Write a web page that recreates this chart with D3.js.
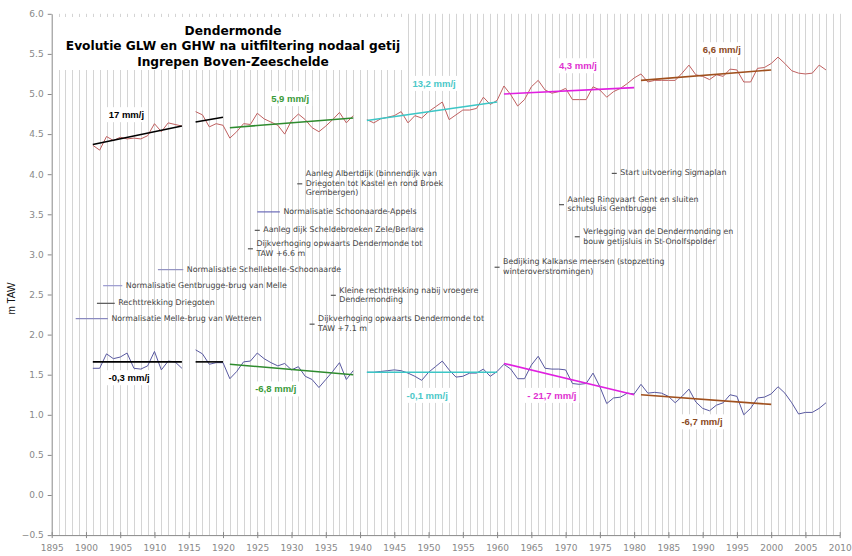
<!DOCTYPE html>
<html><head><meta charset="utf-8">
<script src="https://cdn.jsdelivr.net/npm/d3@7"></script>
<style>body{margin:0;background:#fff}svg{display:block}</style>
</head><body>
<script>
// ---------- DATA ----------
const titleLines = ["Dendermonde","Evolutie GLW en GHW na uitfiltering nodaal getij","Ingrepen Boven-Zeeschelde"];
const yAxisTitle = "m TAW";
const xTicks = d3.range(1895, 2011, 5);
const yTicks = [-0.5,0,0.5,1,1.5,2,2.5,3,3.5,4,4.5,5,5.5,6];
const years = d3.range(1901, 2009);
const ghw = [4.36,4.30,4.47,4.42,4.46,4.44,4.45,4.44,4.48,4.63,4.53,4.64,4.62,4.60,null,
 4.78,4.74,4.59,4.63,4.61,4.45,4.53,4.63,4.62,4.76,4.69,4.65,4.61,4.50,4.67,4.75,4.68,4.58,4.53,4.60,4.68,4.77,4.64,4.73,null,
 4.68,4.64,4.69,4.71,4.73,4.78,4.64,4.73,4.70,4.78,4.84,4.90,4.68,4.74,4.80,4.80,4.82,4.96,4.87,4.92,
 5.10,4.99,4.85,4.93,5.09,5.17,5.05,5.01,5.03,5.07,4.93,4.93,4.93,5.09,5.05,4.96,5.03,5.07,5.13,5.20,
 5.25,5.15,5.17,5.17,5.17,5.17,5.26,5.36,5.24,5.22,5.18,5.24,5.22,5.31,5.30,5.15,5.15,5.32,5.33,5.38,
 5.46,5.38,5.29,5.26,5.25,5.26,5.36,5.30];
const glw = [1.58,1.58,1.76,1.70,1.72,1.77,1.58,1.57,1.61,1.79,1.56,1.67,1.66,1.58,null,
 1.81,1.76,1.63,1.65,1.65,1.45,1.54,1.66,1.67,1.77,1.70,1.65,1.61,1.64,1.56,1.60,1.48,1.44,1.34,1.44,1.54,1.65,1.44,1.55,null,
 1.53,1.53,1.54,1.55,1.56,1.55,1.52,1.48,1.43,1.53,1.60,1.67,1.56,1.47,1.48,1.52,1.52,1.57,1.48,1.54,
 1.63,1.57,1.45,1.45,1.62,1.73,1.58,1.57,1.57,1.56,1.39,1.38,1.39,1.52,1.35,1.14,1.21,1.22,1.27,1.26,
 1.38,1.27,1.28,1.27,1.23,1.15,1.23,1.32,1.16,1.08,1.05,1.12,1.15,1.25,1.23,1.00,1.08,1.21,1.22,1.26,
 1.35,1.27,1.15,1.01,1.03,1.03,1.08,1.15];
// trend lines: start year, end year, start value, end value
const trendStart = [1901,1916,1921,1941,1961,1981, 1901,1916,1921,1941,1961,1981];
const trendEnd   = [1914,1920,1939,1960,1980,2000, 1914,1920,1939,1960,1980,2000];
const trendV0    = [4.37,4.65,4.58,4.67,5.00,5.17, 1.66,1.66,1.63,1.53,1.64,1.25];
const trendV1    = [4.60,4.71,4.70,4.90,5.08,5.30, 1.66,1.66,1.50,1.53,1.25,1.13];
const trendColors= ["#000","#000","#2e8b2e","#3cc6c6","#e020e0","#a0501e","#000","#000","#2e8b2e","#3cc6c6","#e020e0","#a0501e"];
// rate labels: text, anchor year, anchor value
const rateText = ["17 mm/j","5,9 mm/j","13,2 mm/j","4,3 mm/j","6,6 mm/j","-0,3 mm/j","-6,8 mm/j","-0,1 mm/j","- 21,7 mm/j","-6,7 mm/j"];
const rateYear = [1905.9,1929.8,1950.8,1971.8,1992.8,1906.3,1927.7,1949.8,1968.0,1989.9];
const rateVal  = [4.73,4.93,5.12,5.34,5.54,1.45,1.31,1.23,1.23,0.90];
const rateColors = ["#000","#3a9a3a","#4cc8c8","#e030d0","#8b4a1e","#000","#3a9a3a","#4cc8c8","#e030d0","#8b4a1e"];
// events (interventions): text lines, start year, end year, level
const eventText = [
 ["Aanleg Albertdijk (binnendijk van","Driegoten tot Kastel en rond Broek","Grembergen)"],
 ["Normalisatie Schoonaarde-Appels"],
 ["Aanleg dijk Scheldebroeken Zele/Berlare"],
 ["Dijkverhoging opwaarts Dendermonde tot","TAW +6.6 m"],
 ["Normalisatie Schellebelle-Schoonaarde"],
 ["Normalisatie Gentbrugge-brug van Melle"],
 ["Rechttrekking Driegoten"],
 ["Normalisatie Melle-brug van Wetteren"],
 ["Kleine rechttrekking nabij vroegere","Dendermonding"],
 ["Dijkverhoging opwaarts Dendermonde tot","TAW +7.1 m"],
 ["Bedijking Kalkanse meersen (stopzetting","winteroverstromingen)"],
 ["Aanleg Ringvaart Gent en sluiten","schutsluis Gentbrugge"],
 ["Verlegging van de Dendermonding en","bouw getijsluis in St-Onolfspolder"],
 ["Start uitvoering Sigmaplan"]
];
const eventStart = [1931.2,1925.0,1925.0,1924.0,1910.5,1902.5,1901.6,1898.5,1936.1,1933.0,1960.0,1969.4,1971.7,1977.1];
const eventEnd   = [1931.2,1928.3,1925.0,1924.0,1914.2,1905.3,1904.2,1903.2,1936.1,1933.0,1960.0,1969.4,1971.7,1977.1];
const eventLevel = [3.88,3.53,3.30,3.07,2.81,2.61,2.39,2.20,2.49,2.13,2.84,3.62,3.22,4.01];
const eventColors= ["#555","#6a6ab8","#555","#555","#9090c0","#9a9ad0","#555","#8a8ac0","#555","#555","#555","#555","#555","#555"];

// ---------- CHART ----------
const W = 852, H = 556;
const svg = d3.select("body").append("svg").attr("width", W).attr("height", H);
const x = d3.scaleLinear().domain([1895, 2010]).range([51.7, 839.7]);
const y = d3.scaleLinear().domain([-0.5, 6]).range([535.1, 13.8]);

// vertical year grid lines
svg.append("g").selectAll("line").data(d3.range(1896, 2011)).join("line")
  .attr("x1", d => Math.round(x(d)) + 0.5).attr("x2", d => Math.round(x(d)) + 0.5)
  .attr("y1", y(6)).attr("y2", y(-0.5))
  .attr("stroke", "#d4d4d4").attr("stroke-width", 1);

// title box
svg.append("rect").attr("x", 58).attr("y", 17).attr("width", 349).attr("height", 53).attr("fill", "#fff");
svg.append("g").selectAll("text").data(titleLines).join("text")
  .attr("x", 233).attr("y", (d, i) => 34.5 + i * 15.5)
  .attr("text-anchor", "middle").attr("font-family", "DejaVu Sans, Verdana, sans-serif")
  .attr("font-weight", "bold").attr("font-size", 12.2).attr("fill", "#000").text(d => d);

// axes
const gx = svg.append("g").attr("transform", `translate(0,${y(-0.5)})`)
  .call(d3.axisBottom(x).tickValues(xTicks).tickFormat(d3.format("d")).tickSizeInner(3).tickSizeOuter(0));
const gy = svg.append("g").attr("transform", `translate(${x(1895)},0)`)
  .call(d3.axisLeft(y).tickValues(yTicks).tickFormat(d3.format(".1f")).tickSizeInner(4).tickSizeOuter(0));
[gx, gy].forEach(g => {
  g.select(".domain").attr("stroke", "#888");
  g.selectAll(".tick line").attr("stroke", "#888");
  g.selectAll("text").attr("fill", "#888").attr("font-family", "DejaVu Sans, Verdana, sans-serif").attr("font-size", 9);
});
gx.selectAll(".tick line").attr("y1", -3).attr("y2", 3);
gx.selectAll("text").attr("dy", "1.1em");
gy.selectAll("text").attr("x", -8);

svg.append("text").attr("transform", `translate(15,${y(2.45)}) rotate(-90)`)
  .attr("text-anchor", "middle").attr("font-family", "Liberation Sans, Arial, sans-serif")
  .attr("font-size", 10).attr("fill", "#111").text(yAxisTitle);

// events
const ev = svg.append("g").attr("font-family", "DejaVu Sans, Verdana, sans-serif").attr("font-size", 7.9).attr("fill", "#444");
eventText.forEach((lines, i) => {
  const xs = x(eventStart[i]), xe = x(eventEnd[i]);
  const single = eventStart[i] === eventEnd[i];
  const x0 = single ? xs - 2.5 : xs, x1 = single ? xs + 2.5 : xe;
  const yy = y(eventLevel[i]);
  ev.append("line").attr("x1", x0).attr("x2", x1).attr("y1", yy).attr("y2", yy)
    .attr("stroke", eventColors[i]).attr("stroke-width", 1.2);
  const lh = 9.6;
  const top = yy - (lines.length - 1) * lh / 2;
  const t = ev.append("text").attr("x", x1 + 3.5).attr("dominant-baseline", "middle");
  lines.forEach((l, j) => t.append("tspan").attr("x", x1 + 3.5).attr("y", top + j * lh).text(l));
});

// series
const line = d3.line().defined(d => d[1] != null).x(d => x(d[0])).y(d => y(d[1]));
svg.append("path").datum(years.map((yr, i) => [yr, ghw[i]])).attr("d", line)
  .attr("fill", "none").attr("stroke", "#c06060").attr("stroke-width", 1);
svg.append("path").datum(years.map((yr, i) => [yr, glw[i]])).attr("d", line)
  .attr("fill", "none").attr("stroke", "#5858a0").attr("stroke-width", 1);

// trend lines
svg.append("g").selectAll("line").data(trendStart).join("line")
  .attr("x1", (d, i) => x(trendStart[i])).attr("x2", (d, i) => x(trendEnd[i]))
  .attr("y1", (d, i) => y(trendV0[i])).attr("y2", (d, i) => y(trendV1[i]))
  .attr("stroke", (d, i) => trendColors[i]).attr("stroke-width", 1.6);

// rate labels with white background
const rl = svg.append("g");
rateText.forEach((t, i) => {
  const g = rl.append("g");
  const txt = g.append("text").attr("x", x(rateYear[i])).attr("y", y(rateVal[i]))
    .attr("text-anchor", "middle").attr("dominant-baseline", "middle")
    .attr("font-family", "Liberation Sans, Arial, sans-serif").attr("font-weight", "bold")
    .attr("font-size", 9.5).attr("fill", rateColors[i]).text(t);
  const b = txt.node().getBBox();
  g.insert("rect", "text").attr("x", b.x - 3).attr("y", b.y - 2).attr("width", b.width + 6).attr("height", b.height + 4).attr("fill", "#fff");
});
</script>
</body></html>
